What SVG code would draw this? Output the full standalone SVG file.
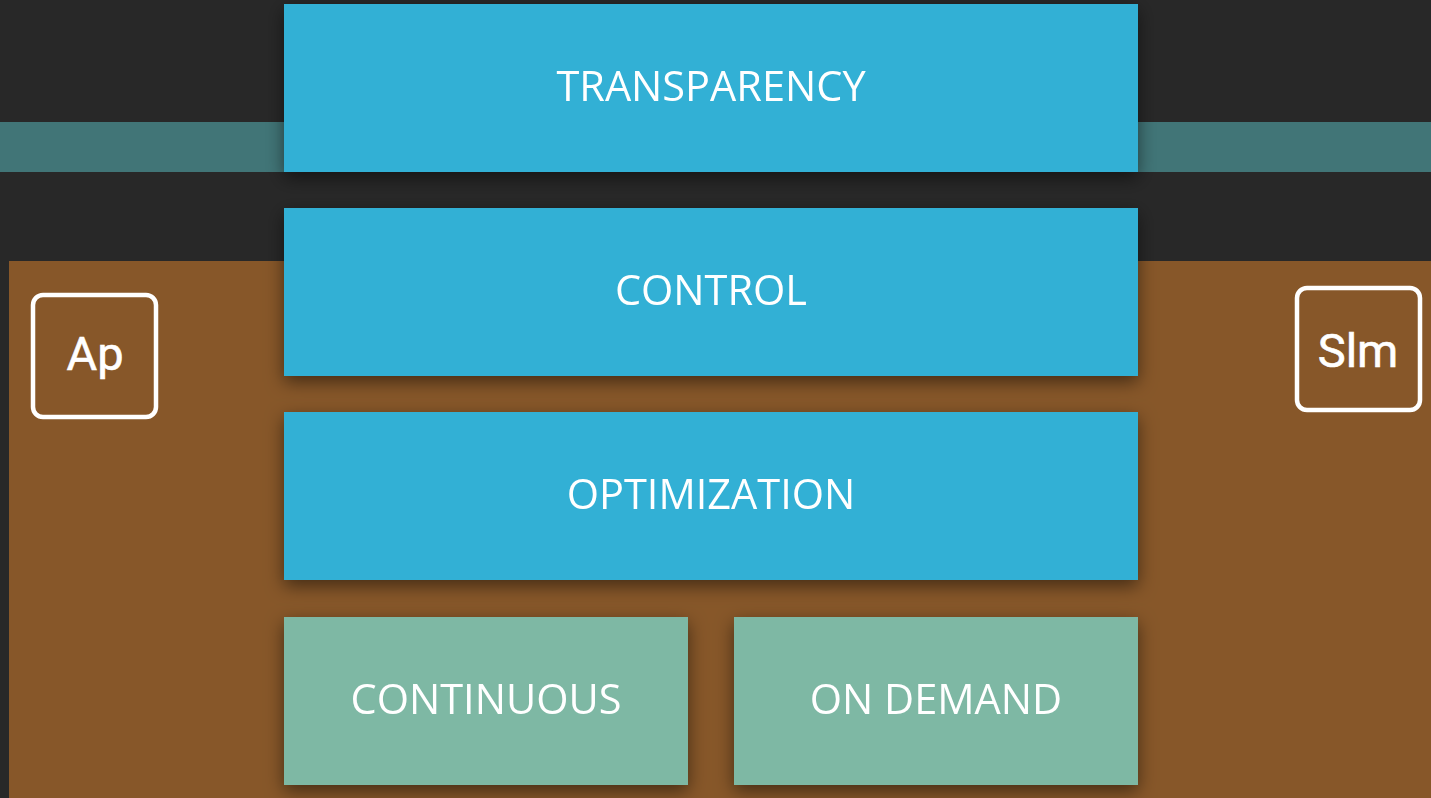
<svg xmlns="http://www.w3.org/2000/svg" width="1431" height="798" viewBox="0 0 1431 798">
<defs>
<filter id="sh" x="-10%" y="-30%" width="120%" height="160%">
<feDropShadow dx="0" dy="6" stdDeviation="9" flood-color="#000" flood-opacity="0.5"/>
</filter>
<style>
.blue{fill:#30B0D5}
.green{fill:#7EB8A4}
.lbl{font-family:"Open Sans","Liberation Sans",sans-serif;font-size:41.5px;fill:#fff;text-anchor:middle}
.icon{fill:none;stroke:#fff;stroke-width:4.5}
.itxt{font-family:"Roboto","Liberation Sans",sans-serif;font-weight:400;font-size:47px;fill:#fff;stroke:#fff;stroke-width:0.6;text-anchor:middle}
</style>
</defs>
<rect width="1431" height="798" fill="#282828"/>
<rect x="0" y="122" width="1431" height="50" fill="#417577"/>
<rect x="9" y="261" width="1422" height="537" fill="#875729"/>
<g id="ap"><rect class="icon" x="33" y="295" width="123" height="122" rx="10"/><text class="itxt" x="95" y="370">Ap</text></g>
<g id="slm"><rect class="icon" x="1297" y="288" width="123" height="122" rx="10"/><text class="itxt" x="1358" y="367">Slm</text></g>
<g id="connectors"></g>
<g id="transparency" filter="url(#sh)"><rect class="blue" x="284" y="4" width="854" height="168"/><text class="lbl" x="711" y="101">TRANSPARENCY</text></g>
<g id="control" filter="url(#sh)"><rect class="blue" x="284" y="208" width="854" height="168"/><text class="lbl" x="711" y="305">CONTROL</text></g>
<g id="optimization" filter="url(#sh)"><rect class="blue" x="284" y="412" width="854" height="168"/><text class="lbl" x="711" y="509">OPTIMIZATION</text></g>
<g id="continuous" filter="url(#sh)"><rect class="green" x="284" y="617" width="404" height="168"/><text class="lbl" x="486" y="714">CONTINUOUS</text></g>
<g id="ondemand" filter="url(#sh)"><rect class="green" x="734" y="617" width="404" height="168"/><text class="lbl" x="936" y="714">ON DEMAND</text></g>
</svg>
